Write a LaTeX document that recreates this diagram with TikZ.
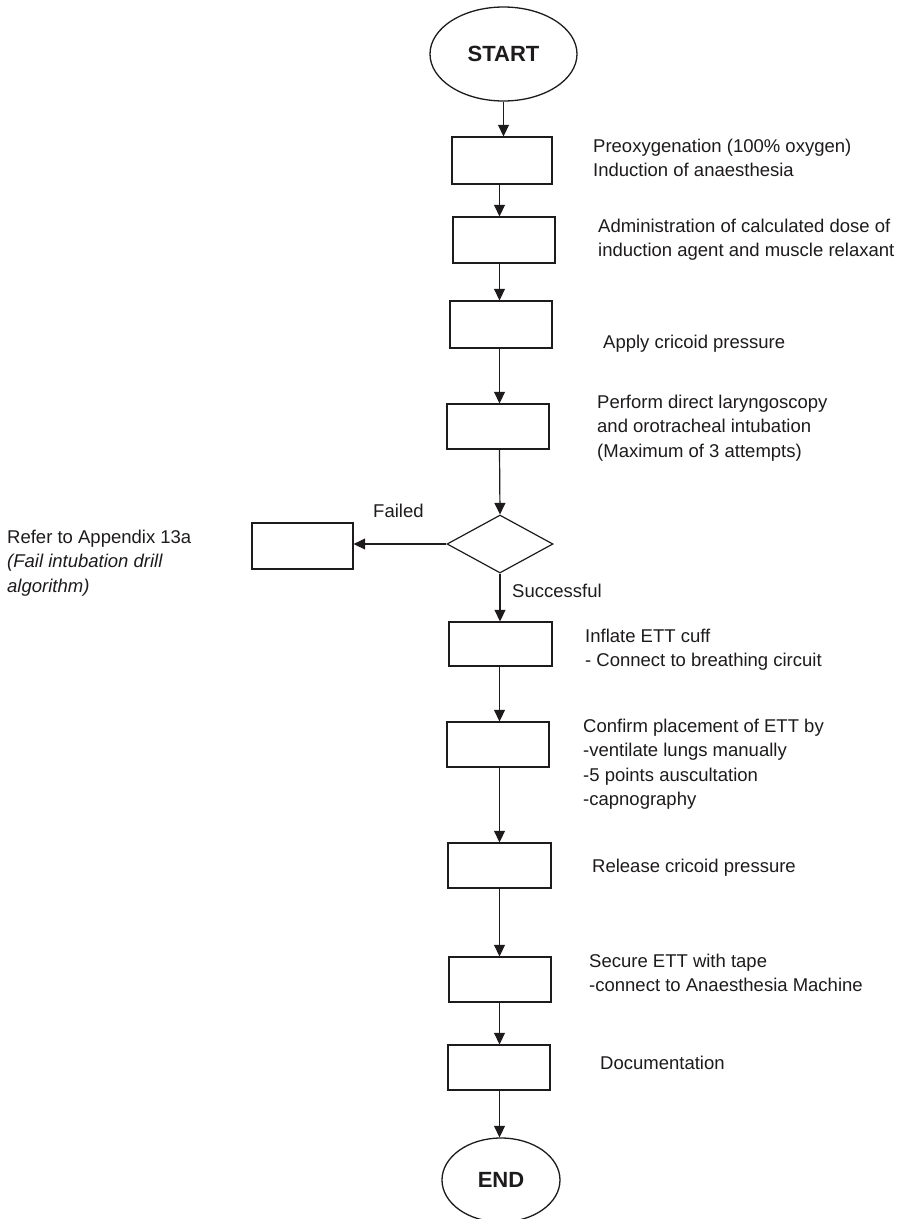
\documentclass[tikz,border=0pt]{standalone}
\usepackage{fontspec}
\setmainfont{Liberation Sans}
\usetikzlibrary{shapes.geometric,arrows.meta}
\definecolor{ink}{HTML}{1E1B1C}
% left-aligned block of lines whose baseline is that of its first line
\newcommand\txtblock[1]{\begin{tabular}[t]{@{}l@{}}#1\end{tabular}}
\begin{document}
\begin{tikzpicture}[x=1pt,y=-1pt,
  every node/.style={text=ink, font=\fontsize{18.5}{24.5}\selectfont},
  stepbox/.style={draw=ink, line width=1.3pt, rectangle, inner sep=0pt,
    minimum width=102pt, minimum height=46pt},
  terminal/.style={draw=ink, line width=1.3pt, ellipse, inner sep=0pt,
    font=\fontsize{22}{26}\selectfont\bfseries},
  decision/.style={draw=ink, line width=1.2pt, diamond, inner sep=0pt,
    aspect=1.83, minimum width=106pt, minimum height=58pt},
  note/.style={anchor=base west, inner sep=0pt},
  flow/.style={draw=ink, line width=1.2pt, -{Triangle[length=11.5pt,width=11pt]}}]

% page frame
\fill[white] (0,0) rectangle (900,1219);
\path[use as bounding box] (0,0) rectangle (900,1219);

% vertical axis followed by the main connectors
\coordinate (axis) at (499.5,0);

% terminals
\node[terminal, minimum width=147pt, minimum height=94pt] (start) at (503.5,54) {START};
\node[terminal, minimum width=118pt, minimum height=84pt] (end) at (501,1180) {END};

% process boxes
\node[stepbox, minimum width=100pt, minimum height=47pt] (b1) at (502,160.5) {};
\node[stepbox] (b2) at (504,240) {};
\node[stepbox, minimum height=47pt] (b3) at (501,324.5) {};
\node[stepbox, minimum height=45pt] (b4) at (498,426.5) {};
\node[decision] (dec) at (500,544) {};
\node[stepbox, minimum width=101pt] (fb) at (302.5,546) {};
\node[stepbox, minimum width=103pt, minimum height=44pt] (b5) at (500.5,644) {};
\node[stepbox, minimum height=45pt] (b6) at (498,744.5) {};
\node[stepbox, minimum width=103pt, minimum height=45pt] (b7) at (499.5,865.5) {};
\node[stepbox, minimum height=45pt] (b8) at (500,979.5) {};
\node[stepbox, minimum height=45pt] (b9) at (499,1067.5) {};

% descriptions
\node[note] (t1) at (593,152) {\txtblock{Preoxygenation (100\% oxygen)\\Induction of anaesthesia}};
\node[note] (t2) at (598,232) {\txtblock{Administration of calculated dose of\\induction agent and muscle relaxant}};
\node[note] (t3) at (603,348) {Apply cricoid pressure};
\node[note] (t4) at (597,408) {\txtblock{Perform direct laryngoscopy\\and orotracheal intubation\\(Maximum of 3 attempts)}};
\node[note] (t5) at (7,543) {\txtblock{Refer to Appendix 13a\\\itshape (Fail intubation drill\\\itshape algorithm)}};
\node[note] (lf) at (373,517) {Failed};
\node[note] (ls) at (512,597) {Successful};
\node[note] (t6) at (585,642) {\txtblock{Inflate ETT cuff\\- Connect to breathing circuit}};
\node[note] (t7) at (583,732) {\txtblock{Confirm placement of ETT by\\-ventilate lungs manually\\-5 points auscultation\\-capnography}};
\node[note] (t8) at (592,872) {Release cricoid pressure};
\node[note] (t9) at (589,967) {\txtblock{Secure ETT with tape\\-connect to Anaesthesia Machine}};
\node[note] (t10) at (600,1069) {Documentation};

% connectors
\draw[flow] (start.south) -- (start.south |- b1.north);
\draw[flow] (b1.south -| axis) -- (b2.north -| axis);
\draw[flow] (b2.south -| axis) -- (b3.north -| axis);
\draw[flow] (b3.south -| axis) -- (b4.north -| axis);
\draw[flow] (b4.south -| axis) -- (dec.north);
\draw[flow] (dec.west) -- (dec.west -| fb.east);
\draw[flow] (dec.south) -- (dec.south |- b5.north);
\draw[flow] (b5.south -| axis) -- (b6.north -| axis);
\draw[flow] (b6.south -| axis) -- (b7.north -| axis);
\draw[flow] (b7.south -| axis) -- (b8.north -| axis);
\draw[flow] (b8.south -| axis) -- (b9.north -| axis);
\draw[flow] (b9.south -| axis) -- (end.north -| axis);
\end{tikzpicture}
\end{document}
